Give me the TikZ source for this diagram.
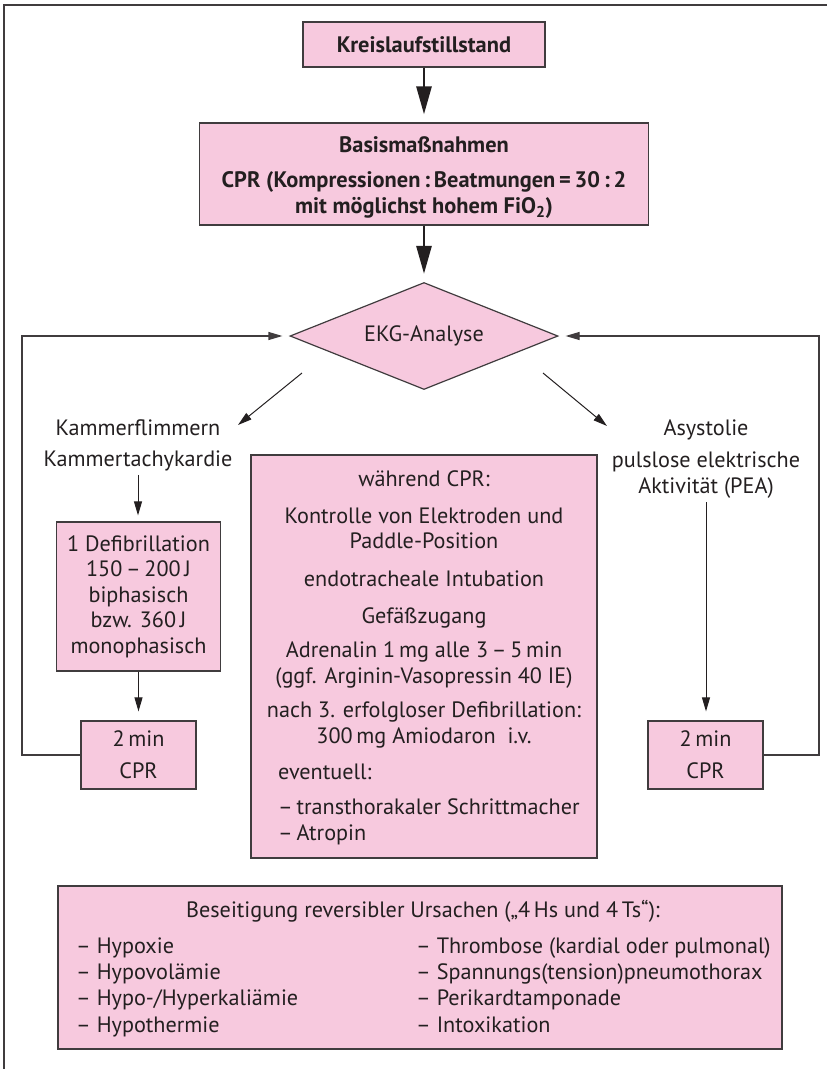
\documentclass[tikz,border=0pt]{standalone}
\usepackage{fontspec}
\setmainfont{PT Sans}
\usepackage{xcolor}
\usepackage{tikz}
\usetikzlibrary{arrows.meta}
\usetikzlibrary{shapes, shapes.geometric}
\usetikzlibrary{positioning}
\usetikzlibrary{calc}

\definecolor{boxpink}{RGB}{247,201,222}
\definecolor{edgegray}{RGB}{64,60,62}
\definecolor{inkdark}{RGB}{35,31,32}

\newcommand{\flowtext}{\fontsize{22.2}{25.5}\selectfont}
\newcommand{\flowbold}{\fontsize{22.4}{26}\selectfont\bfseries}

\tikzset{
  pinkbox/.style={draw=edgegray, line width=1.2pt, fill=boxpink, inner sep=0pt},
  bigarrow/.style={draw=inkdark, line width=2.8pt, -{Triangle[length=28pt,width=15pt]}},
  thinarrow/.style={draw=inkdark, line width=1pt, -{Triangle[length=14pt,width=8pt]}},
  loopline/.style={draw=edgegray, line width=1.2pt, -{Triangle[length=14pt,width=8pt]}},
  plainline/.style={draw=edgegray, line width=1.2pt},
}

\begin{document}
\begin{tikzpicture}[x=1pt,y=1pt,yscale=-1,font=\flowtext,text=inkdark]
\useasboundingbox (0,0) rectangle (827,1069);

%Frame corner
\draw[plainline] (4,1069) -- (4,5) -- (827,5);

%Shape: top boxes
\node[pinkbox, minimum width=242pt, minimum height=45pt, font=\flowbold] (stop) at (424,44.5) {Kreislaufstillstand};
\node[pinkbox, minimum width=449pt, minimum height=102pt, align=center, font=\flowbold] (basis) at (424,174) {\rule{0pt}{23pt}Basismaßnahmen\\[9pt]CPR (Kompressionen\,:\,Beatmungen\,=\,30\,:\,2\\mit möglichst hohem FiO\textsubscript{2})};

%Shape: Diamond
\node[pinkbox, diamond, aspect=2.5, minimum width=268pt, minimum height=107pt] (ekg) at (424,336) {EKG-Analyse};

% Text Node
\node[align=center, inner sep=0pt, anchor=base] (vf) at (138,466) {Kammerflimmern\\[5.5pt]Kammertachykardie};
\node[align=center, inner sep=0pt, anchor=base] (asys) at (706,493) {Asystolie\\[6.5pt]pulslose elektrische\\Aktivität (PEA)};

%Shape: left branch
\node[pinkbox, minimum width=164pt, minimum height=149pt, align=center] (defib) at (138.5,596.5) {1 Defibrillation\\150\,–\,200\,J\\biphasisch\\bzw. 360\,J\\monophasisch};
\node[pinkbox, minimum width=115pt, minimum height=68pt, align=center] (cprL) at (138.5,755) {2\,min\\[6.5pt]CPR};
%Shape: right branch
\node[pinkbox, minimum width=115pt, minimum height=68pt, align=center] (cprR) at (705.5,755) {2\,min\\[6.5pt]CPR};

%Shape: middle box
\node[pinkbox, minimum width=346pt, minimum height=403pt] (during) at (424,656.5) {};
\node[align=center, inner sep=0pt, anchor=base] (duringtxt) at (424,743) {während CPR:\\[11.5pt]Kontrolle von Elektroden und\\Paddle-Position\\[12.5pt]endotracheale Intubation\\[11.5pt]Gefäßzugang\\[8.5pt]Adrenalin 1\,mg alle 3\,–\,5\,min\\(ggf. Arginin-Vasopressin 40 IE)\\[9pt]nach 3. erfolgloser Defibrillation:\\300\,mg Amiodaron\ \ i.v.};
\node[align=left, inner sep=0pt, anchor=base west] (duringopt) at (278,840) {eventuell:\\[9.5pt]–\,transthorakaler Schrittmacher\\–\,Atropin};

%Shape: bottom box
\node[pinkbox, minimum width=724pt, minimum height=163pt] (causes) at (420,967.5) {};
\node[inner sep=0pt, anchor=base] (causestitle) at (423,917) {Beseitigung reversibler Ursachen („4\,Hs und 4\,Ts“):};
\node[align=left, inner sep=0pt, anchor=base west, font=\fontsize{22.2}{26.3}\selectfont] (causesH) at (76,1032) {– Hypoxie\\– Hypovolämie\\– Hypo-/Hyperkaliämie\\– Hypothermie};
\node[align=left, inner sep=0pt, anchor=base west, font=\fontsize{22.2}{26.3}\selectfont] (causesT) at (416,1032) {– Thrombose (kardial oder pulmonal)\\– Spannungs(tension)pneumothorax\\– Perikardtamponade\\– Intoxikation};

%Straight Lines: main arrows
\draw[bigarrow, shorten >=8pt] (stop.south) -- (basis.north);
\draw[bigarrow, shorten >=8pt] (basis.south) -- (ekg.north);

%Straight Lines: branches
\coordinate (ekgSW) at (302,373);
\coordinate (vfNE) at (238,425);
\coordinate (ekgSE) at (543,373);
\coordinate (asysNW) at (607,426);
\draw[thinarrow] (ekgSW) -- (vfNE);
\draw[thinarrow] (ekgSE) -- (asysNW);
\draw[thinarrow, shorten <=4pt, shorten >=6pt] (vf.south) -- (vf.south |- defib.north);
\draw[thinarrow, shorten >=9pt] (defib.south) -- (cprL.north);
\draw[thinarrow, shorten <=4pt, shorten >=9pt] (asys.south) -- (asys.south |- cprR.north);

%Straight Lines: loops back
\coordinate (loopL) at (22,336);
\coordinate (loopR) at (819,336);
\draw[loopline, shorten >=7pt] (cprL.west) -| (loopL) -- (ekg.west);
\draw[loopline, shorten >=7pt] (cprR.east) -| (loopR) -- (ekg.east);

\end{tikzpicture}
\end{document}
